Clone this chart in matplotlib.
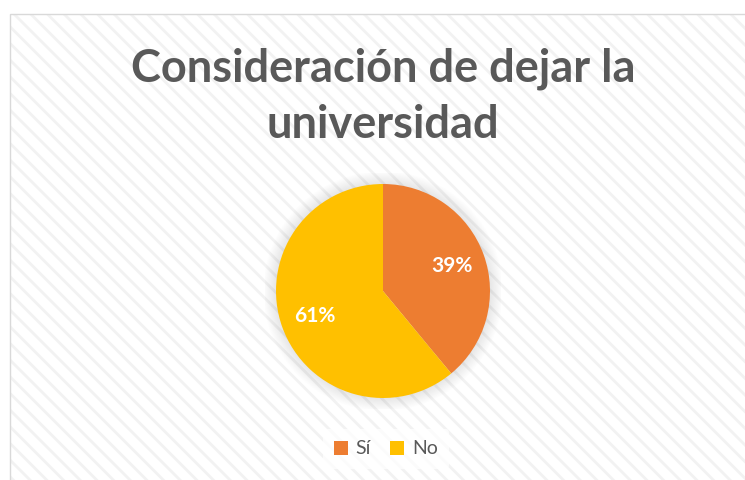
"""Pie chart: consideración de dejar la universidad."""

import matplotlib.pyplot as plt
from matplotlib.patches import Circle, Rectangle

labels = ["Sí", "No"]
values = [39, 61]
colors = ["#ED7D31", "#FFC000"]

TITLE = "Consideración de dejar la\nuniversidad"
TEXT_GRAY = "#595959"

W, H = 745, 480
plt.rcParams["hatch.linewidth"] = 2.0
fig = plt.figure(figsize=(W / 100, H / 100), dpi=100)
fig.patch.set_facecolor("white")

# chart area: hatched background + thin border (runs off the right/bottom edge)
x0, y0 = 10 / W, 1 - 14 / H
bg = Rectangle((x0, -0.05), 1.05 - x0, y0 + 0.05, transform=fig.transFigure,
               facecolor="white", edgecolor="#f2f2f2", linewidth=0,
               hatch="\\\\", zorder=-2)
fig.patches.append(bg)
border = Rectangle((x0, -0.05), 1.05 - x0, y0 + 0.05, transform=fig.transFigure,
                   facecolor="none", edgecolor="#d9d9d9", linewidth=1, zorder=-1)
fig.patches.append(border)

fig.text(383 / W, 1 - 97 / H, TITLE, ha="center", va="center",
         fontsize=32.5, fontweight="bold", color=TEXT_GRAY, family="Lato",
         linespacing=1.4)

# pie axes: center (383, 291) px, radius 107 px
r_px = 107
span = 2.2 * r_px
ax = fig.add_axes([(383 - span / 2) / W, (H - 291 - span / 2) / H, span / W, span / H])
ax.set_zorder(2)

# soft shadow around the pie
for i in range(12):
    ax.add_patch(Circle((0, 0), 1.0 + 0.01 * (12 - i), color="#000000",
                        alpha=0.009, linewidth=0, zorder=0))

wedges, _, autotexts = ax.pie(values, colors=colors, startangle=90, counterclock=False,
                              autopct="%1.0f%%", pctdistance=0.68,
                              wedgeprops=dict(linewidth=0),
                              textprops=dict(color="white", fontsize=15,
                                             fontweight="bold", family="Lato"))
for w in wedges:
    w.set_zorder(2)
for t in autotexts:
    t.set_zorder(3)
ax.set_xlim(-1.1, 1.1)
ax.set_ylim(-1.1, 1.1)
ax.axis("off")

leg = fig.legend(wedges, labels, loc="center", bbox_to_anchor=(386 / W, 1 - 449 / H),
                 ncol=2, frameon=True, handlelength=0.7,
                 handleheight=0.7, handletextpad=0.4, columnspacing=1.0,
                 borderpad=0.6, prop=dict(family="Lato", size=14))
leg.set_zorder(3)
leg.get_frame().set_facecolor("white")
leg.get_frame().set_edgecolor("none")
leg.get_frame().set_alpha(0.7)
for t in leg.get_texts():
    t.set_color(TEXT_GRAY)

fig.savefig("out.png", dpi=100)
